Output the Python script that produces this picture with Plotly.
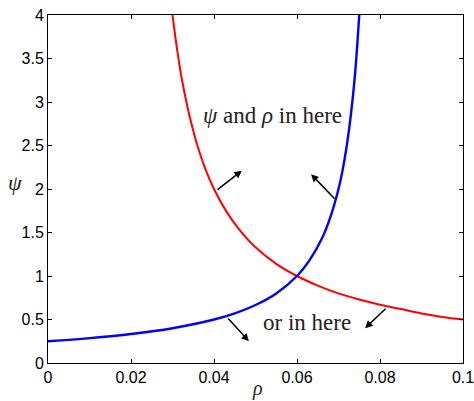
import plotly.graph_objects as go

# Red curve
red_rho = [0.030, 0.031, 0.032, 0.033, 0.034, 0.035, 0.036, 0.038, 0.040, 0.043, 0.046,
           0.050, 0.055, 0.060, 0.065, 0.070, 0.075, 0.080, 0.085, 0.090, 0.095, 0.100]
red_psi = [4.00, 3.64, 3.33, 3.08, 2.86, 2.67, 2.50, 2.22, 2.00, 1.74, 1.54,
           1.33, 1.14, 1.00, 0.89, 0.80, 0.73, 0.67, 0.62, 0.57, 0.53, 0.50]

# Blue curve
blue_rho = [0.000, 0.010, 0.020, 0.030, 0.040, 0.045, 0.050, 0.055, 0.060, 0.063,
            0.066, 0.068, 0.070, 0.071, 0.072, 0.073, 0.074, 0.075]
blue_psi = [0.250, 0.286, 0.333, 0.400, 0.500, 0.571, 0.667, 0.800, 1.000, 1.180,
            1.430, 1.670, 2.000, 2.220, 2.500, 2.860, 3.330, 4.000]

x_ticks = [0, 0.02, 0.04, 0.06, 0.08, 0.1]
x_labels = ["0", "0.02", "0.04", "0.06", "0.08", "0.1"]
y_ticks = [0, 0.5, 1, 1.5, 2, 2.5, 3, 3.5, 4]
y_labels = ["0", "0.5", "1", "1.5", "2", "2.5", "3", "3.5", "4"]

# Arrows: (tail_x, tail_y, head_x, head_y)
arrows = [
    (0.0405, 1.98, 0.0467, 2.21),
    (0.0694, 1.87, 0.0634, 2.17),
    (0.0431, 0.53, 0.0484, 0.25),
    (0.0817, 0.64, 0.0764, 0.40),
]

fig = go.Figure()
fig.add_trace(go.Scatter(x=red_rho, y=red_psi, mode="lines", line=dict(color="#ff0000", width=2, shape="spline"), showlegend=False))
fig.add_trace(go.Scatter(x=blue_rho, y=blue_psi, mode="lines", line=dict(color="#0000ff", width=2.4, shape="spline"), showlegend=False))

axis_common = dict(showgrid=False, zeroline=False, showline=True, linecolor="black", linewidth=1,
                   mirror="ticks", ticks="inside", ticklen=4, tickcolor="black", automargin=False,
                   ticklabeloverflow="allow",
                   tickfont=dict(family="Liberation Sans", size=16, color="black"))

fig.update_xaxes(range=[-1e-7, 0.1 + 1e-7], tickvals=x_ticks, ticktext=x_labels, **axis_common)
fig.update_yaxes(range=[-1e-5, 4 + 1e-5], tickvals=y_ticks, ticktext=y_labels, **axis_common)

annotations = []
for tx, ty, hx, hy in arrows:
    annotations.append(dict(x=hx, y=hy, ax=tx, ay=ty, xref="x", yref="y", axref="x", ayref="y",
                            showarrow=True, arrowhead=2, arrowsize=1.0, arrowwidth=1.5,
                            arrowcolor="black", text=""))

serif = dict(family="Liberation Serif", size=23, color="#222222")
annotations.append(dict(x=0.054, y=2.85, xref="x", yref="y", showarrow=False,
                        xanchor="center", yanchor="middle",
                        text="<i>ψ</i> and <i>ρ</i> in here", font=serif))
annotations.append(dict(x=0.0624, y=0.46, xref="x", yref="y", showarrow=False,
                        xanchor="center", yanchor="middle",
                        text="or in here", font=serif))
annotations.append(dict(x=15, y=182, xref="paper", yref="paper", showarrow=False,
                        xanchor="center", yanchor="middle",
                        text="<i>ψ</i>", font=dict(family="Liberation Serif", size=22, color="#222222")))
annotations.append(dict(x=257, y=375, xref="paper", yref="paper", showarrow=False,
                        xanchor="center", yanchor="top",
                        text="<i>ρ</i>", font=dict(family="Liberation Serif", size=20, color="#222222")))

# convert pixel positions for axis titles into paper coords
L, R, T, B = 48, 11, 15, 38
W, H = 474, 401
pw, ph = W - L - R, H - T - B
for a in annotations[-2:]:
    px, py = a["x"], a["y"]
    a["x"] = (px - L) / pw
    a["y"] = (H - B - py) / ph

fig.update_layout(width=W, height=H, margin=dict(l=L, r=R, t=T, b=B, autoexpand=False),
                  plot_bgcolor="white", paper_bgcolor="white", annotations=annotations)

fig.write_html("out.html")
